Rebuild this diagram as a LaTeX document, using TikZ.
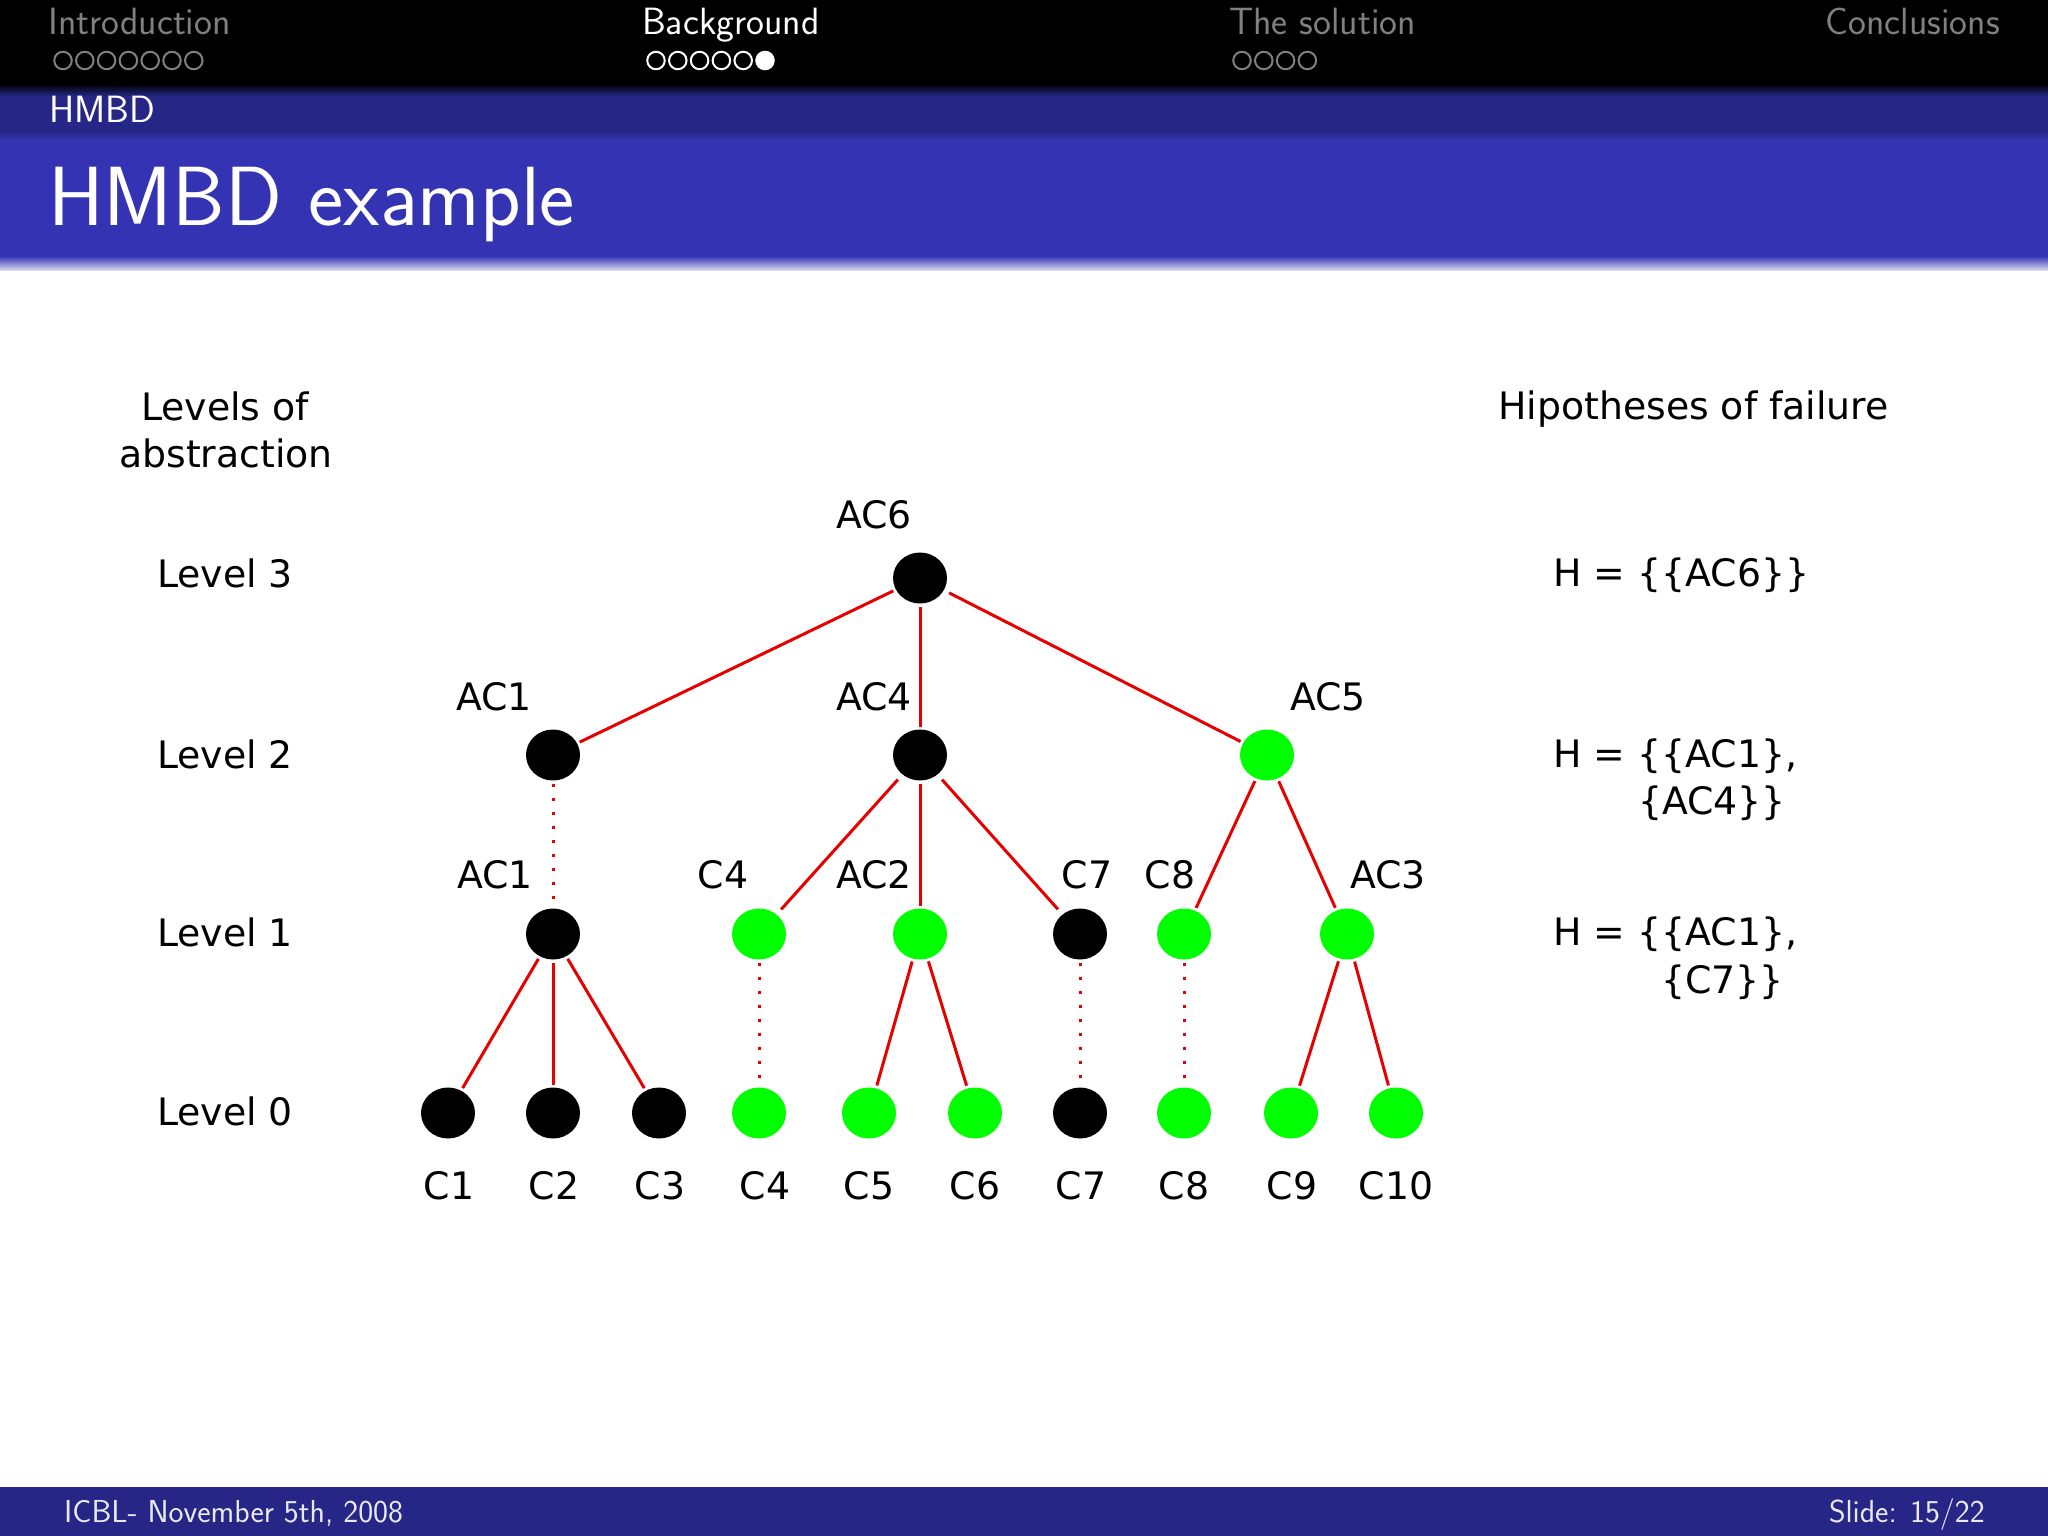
\documentclass[tikz,border=0pt]{standalone}
\usepackage{fontspec}
\usetikzlibrary{shapes.geometric}
\newfontfamily\dv{DejaVu Sans}
\newfontfamily\lmsans{Latin Modern Sans}
\definecolor{bardark}{RGB}{38,38,134}
\definecolor{barblue}{RGB}{51,51,179}
\definecolor{headgray}{RGB}{128,128,128}
\definecolor{edgered}{RGB}{230,0,0}
\definecolor{leafgreen}{RGB}{0,255,0}
\tikzset{
  x=1pt,y=-1pt,
  blacknode/.style={ellipse,fill=black,minimum width=54pt,minimum height=51pt,inner sep=0pt,outer sep=3pt},
  greennode/.style={ellipse,fill=leafgreen,minimum width=54pt,minimum height=51pt,inner sep=0pt,outer sep=3pt},
  solidedge/.style={draw=edgered,line width=3pt},
  dotedge/.style={draw=edgered,line width=3pt,dash pattern=on 3pt off 11pt},
  lab/.style={anchor=base,inner sep=0pt,font=\dv\fontsize{37.8}{37.8}\selectfont,text=black},
  labl/.style={anchor=base west,inner sep=0pt,font=\dv\fontsize{37.8}{37.8}\selectfont,text=black},
  navtext/.style={anchor=base west,inner sep=0pt,font=\lmsans\fontsize{38}{38}\selectfont},
  navdot/.style={circle,draw,line width=2pt,minimum size=17.5pt,inner sep=0pt,outer sep=0pt},
  foot/.style={inner sep=0pt,font=\lmsans\fontsize{31.8}{31.8}\selectfont,text=white!90!bardark},
}
\begin{document}
\begin{tikzpicture}
\useasboundingbox (0,0) rectangle (2048,1536);
% header
\fill[white] (0,0) rectangle (2048,1536);
\fill[black] (0,0) rectangle (2048,84);
\shade[top color=black,bottom color=bardark] (0,84) rectangle (2048,96);
\fill[bardark] (0,96) rectangle (2048,131);
\shade[top color=bardark,bottom color=barblue] (0,131) rectangle (2048,140);
\fill[barblue] (0,140) rectangle (2048,257);
\shade[top color=barblue,bottom color=barblue!20] (0,256) rectangle (2048,270);
\fill[bardark] (0,1487) rectangle (2048,1536);
% header text
\node[navtext,text=headgray] (n1) at (48,35) {Introduction};
\node[navtext,text=white] (n2) at (642,35) {Background};
\node[navtext,text=headgray] (n3) at (1229,35) {The solution};
\node[navtext,text=headgray,anchor=base east] (n4) at (2000,35) {Conclusions};
\foreach \i in {0,...,6} \node[navdot,draw=headgray] (a\i) at (63+21.8*\i,60.5) {};
\foreach \i in {0,...,4} \node[navdot,draw=white] (b\i) at (656+21.8*\i,60.5) {};
\node[navdot,draw=white,fill=white] (b5) at (765,60.5) {};
\foreach \i in {0,...,3} \node[navdot,draw=headgray] (c\i) at (1242+21.8*\i,60.5) {};
\node[navtext,text=white] (sub) at (49,123) {HMBD};
\node[navtext,text=white,font=\lmsans\fontsize{84}{84}\selectfont] (title) at (48,225) {HMBD example};
\node[foot,anchor=base west] (fl) at (64,1522) {ICBL- November 5th, 2008};
\node[foot,anchor=base east] (fr) at (1985,1522) {Slide: 15/22};
% tree nodes
\node[blacknode] (ac6) at (920,578) {};
\node[blacknode] (ac1t) at (553,755) {};
\node[blacknode] (ac4) at (920,755) {};
\node[greennode] (ac5) at (1267,755) {};
\node[blacknode] (ac1b) at (553,934) {};
\node[greennode] (c4t) at (759,934) {};
\node[greennode] (ac2) at (920,934) {};
\node[blacknode] (c7t) at (1080,934) {};
\node[greennode] (c8t) at (1184,934) {};
\node[greennode] (ac3) at (1347,934) {};
\node[blacknode] (c1) at (448,1113) {};
\node[blacknode] (c2) at (553,1113) {};
\node[blacknode] (c3) at (659,1113) {};
\node[greennode] (c4) at (759,1113) {};
\node[greennode] (c5) at (869,1113) {};
\node[greennode] (c6) at (975,1113) {};
\node[blacknode] (c7) at (1080,1113) {};
\node[greennode] (c8) at (1184,1113) {};
\node[greennode] (c9) at (1291,1113) {};
\node[greennode] (c10) at (1396,1113) {};
% edges
\draw[solidedge] (ac6) -- (ac1t);
\draw[solidedge] (ac6) -- (ac4);
\draw[solidedge,shorten <=3pt] (ac6) -- (ac5);
\draw[solidedge,shorten <=4pt,shorten >=4pt] (ac4) -- (c4t);
\draw[solidedge] (ac4) -- (ac2);
\draw[solidedge,shorten <=4pt,shorten >=4pt] (ac4) -- (c7t);
\draw[solidedge] (ac5) -- (c8t);
\draw[solidedge] (ac5) -- (ac3);
\draw[solidedge] (ac1b) -- (c1);
\draw[solidedge] (ac1b) -- (c2);
\draw[solidedge] (ac1b) -- (c3);
\draw[solidedge] (ac2) -- (c5);
\draw[solidedge] (ac2) -- (c6);
\draw[solidedge] (ac3) -- (c9);
\draw[solidedge] (ac3) -- (c10);
\draw[dotedge] (ac1t) -- (ac1b);
\draw[dotedge] (c4t) -- (c4);
\draw[dotedge] (c7t) -- (c7);
\draw[dotedge] (c8t) -- (c8);
% tree labels
\node[lab] (l1) at (874,528) {AC6};
\node[lab] (l2) at (494,710) {AC1};
\node[lab] (l3) at (874,710) {AC4};
\node[lab] (l4) at (1328,710) {AC5};
\node[lab] (l5) at (495,888) {AC1};
\node[lab] (l6) at (723,888) {C4};
\node[lab] (l7) at (874,888) {AC2};
\node[lab] (l8) at (1087,888) {C7};
\node[lab] (l9) at (1170,888) {C8};
\node[lab] (l10) at (1388,888) {AC3};
\node[lab] (b1) at (449,1199) {C1};
\node[lab] (b2) at (554,1199) {C2};
\node[lab] (b3) at (660,1199) {C3};
\node[lab] (b4) at (765,1199) {C4};
\node[lab] (b5x) at (869,1199) {C5};
\node[lab] (b6) at (975,1199) {C6};
\node[lab] (b7) at (1081,1199) {C7};
\node[lab] (b8) at (1184,1199) {C8};
\node[lab] (b9) at (1292,1199) {C9};
\node[lab] (b10) at (1396,1199) {C10};
% left column
\node[lab] (la1) at (225,420) {Levels of};
\node[lab] (la2) at (226,467) {abstraction};
\node[lab] (lv3) at (225,587) {Level 3};
\node[lab] (lv2) at (225,768) {Level 2};
\node[lab] (lv1) at (225,946) {Level 1};
\node[lab] (lv0) at (225,1125) {Level 0};
% right column
\node[labl] (h0) at (1498,419) {Hipotheses of failure};
\node[labl] (h1) at (1553,586) {H = \{\{AC6\}\}};
\node[labl] (h2) at (1553,767) {H = \{\{AC1\},};
\node[labl] (h3) at (1638,814) {\{AC4\}\}};
\node[labl] (h4) at (1553,945) {H = \{\{AC1\},};
\node[labl] (h5) at (1661,993) {\{C7\}\}};
\end{tikzpicture}
\end{document}
